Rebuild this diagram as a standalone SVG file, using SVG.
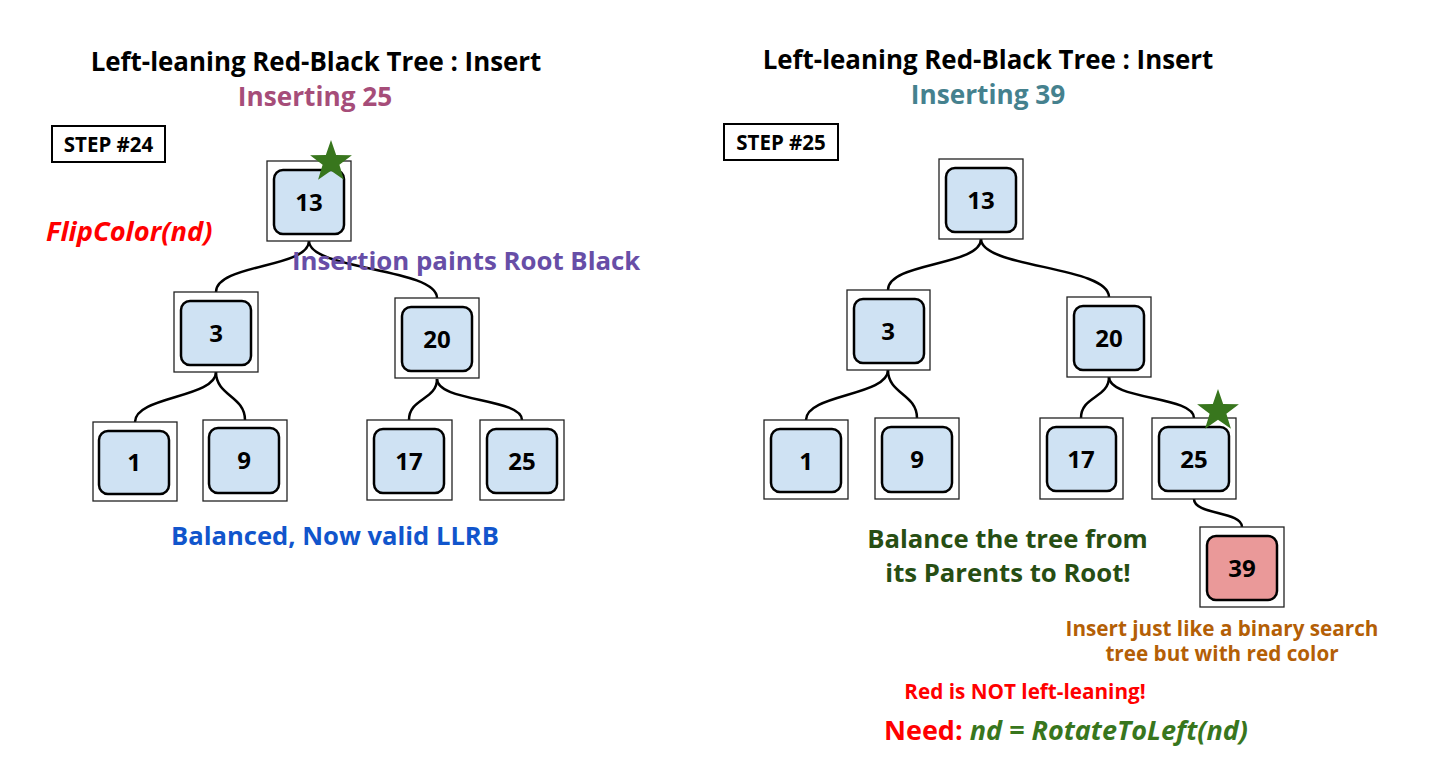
<svg xmlns="http://www.w3.org/2000/svg" width="1434" height="781" viewBox="0 0 1434 781">
<style>
text{font-family:"Open Sans","Noto Sans",sans-serif;font-weight:bold}
.outer{fill:#fff;stroke:#222;stroke-width:1.3}
.inner{fill:#cfe2f3;stroke:#000;stroke-width:2.5}
.red{fill:#ea9999}
.num{font-size:24px;text-anchor:middle;fill:#000}
.edge{fill:none;stroke:#000;stroke-width:2.5}
.title{font-size:25.9px;text-anchor:middle;fill:#000}
.sub{font-size:26.2px;text-anchor:middle}
.step{fill:#fff;stroke:#000;stroke-width:2}
.steptxt{font-size:20.5px;text-anchor:middle;fill:#000}
.star{fill:#38761d}
</style>
<defs>
<polygon id="star" points="0,-22 5.17,-7.12 20.92,-6.8 8.37,2.72 12.93,17.8 0,8.8 -12.93,17.8 -8.37,2.72 -20.92,-6.8 -5.17,-7.12"/>
</defs>
<rect width="1434" height="781" fill="#fff"/>

<g id="connectors">
<path class="edge" d="M309,241 C309,268 216,264 216,292"/>
<path class="edge" d="M309,241 C309,270 437,268 437,298"/>
<path class="edge" d="M216,372 C216,398 135,396 135,422"/>
<path class="edge" d="M216,372 C216,396 245,396 245,420"/>
<path class="edge" d="M437,379 C437,400 409,398 409,420"/>
<path class="edge" d="M437,379 C437,402 522,398 522,420"/>
<path class="edge" d="M981,239 C981,266 888,262 888,290"/>
<path class="edge" d="M981,239 C981,268 1109,266 1109,297"/>
<path class="edge" d="M888,370 C888,396 806,394 806,420"/>
<path class="edge" d="M888,370 C888,394 917,394 917,418"/>
<path class="edge" d="M1109,377 C1109,398 1081,396 1081,418"/>
<path class="edge" d="M1109,377 C1109,400 1194,396 1194,418"/>
<path class="edge" d="M1194,499 C1194,515 1242,511 1242,527"/>
</g>

<g id="left-title">
<text class="title" x="316" y="71">Left-leaning Red-Black Tree : Insert</text>
<text class="sub" x="315" y="106" fill="#a64d79">Inserting 25</text>
</g>
<g id="step24">
<rect class="step" x="52" y="126" width="113" height="36"/>
<text class="steptxt" x="108.5" y="151.5">STEP #24</text>
</g>

<g id="L13"><rect class="outer" x="267" y="161" width="84" height="80"/><rect class="inner" x="274" y="170" width="70" height="64" rx="9"/><text class="num" x="309" y="211">13</text></g>
<g id="L3"><rect class="outer" x="174" y="292" width="84" height="80"/><rect class="inner" x="181" y="301" width="70" height="64" rx="9"/><text class="num" x="216" y="342">3</text></g>
<g id="L20"><rect class="outer" x="395" y="298" width="84" height="80"/><rect class="inner" x="402" y="307" width="70" height="64" rx="9"/><text class="num" x="437" y="348">20</text></g>
<g id="L1"><rect class="outer" x="93" y="422" width="84" height="79"/><rect class="inner" x="99" y="431" width="70" height="63" rx="9"/><text class="num" x="134" y="471">1</text></g>
<g id="L9"><rect class="outer" x="203" y="420" width="84" height="81"/><rect class="inner" x="209" y="428" width="70" height="65" rx="9"/><text class="num" x="244" y="469">9</text></g>
<g id="L17"><rect class="outer" x="367" y="420" width="85" height="80"/><rect class="inner" x="374" y="429" width="70" height="64" rx="9"/><text class="num" x="409" y="470">17</text></g>
<g id="L25"><rect class="outer" x="480" y="420" width="84" height="80"/><rect class="inner" x="487" y="429" width="70" height="64" rx="9"/><text class="num" x="522" y="470">25</text></g>
<use id="star-left" href="#star" class="star" x="331" y="162"/>

<g id="left-notes">
<text x="46" y="241" font-size="27.3" font-style="italic" fill="#ff0000">FlipColor(nd)</text>
<text x="292" y="270" font-size="25.8" fill="#674ea7">Insertion paints Root Black</text>
<text x="335" y="545" font-size="25.6" fill="#1155cc" text-anchor="middle">Balanced, Now valid LLRB</text>
</g>

<g id="right-title">
<text class="title" x="988" y="69">Left-leaning Red-Black Tree : Insert</text>
<text class="sub" x="988" y="104" fill="#45818e">Inserting 39</text>
</g>
<g id="step25">
<rect class="step" x="724" y="124" width="114" height="36"/>
<text class="steptxt" x="781" y="149.5">STEP #25</text>
</g>

<g id="R13"><rect class="outer" x="939" y="159" width="84" height="80"/><rect class="inner" x="946" y="168" width="70" height="64" rx="9"/><text class="num" x="981" y="209">13</text></g>
<g id="R3"><rect class="outer" x="847" y="290" width="83" height="80"/><rect class="inner" x="854" y="299" width="70" height="64" rx="9"/><text class="num" x="888" y="340">3</text></g>
<g id="R20"><rect class="outer" x="1067" y="297" width="84" height="80"/><rect class="inner" x="1074" y="306" width="70" height="64" rx="9"/><text class="num" x="1109" y="347">20</text></g>
<g id="R1"><rect class="outer" x="764" y="420" width="84" height="79"/><rect class="inner" x="771" y="429" width="70" height="63" rx="9"/><text class="num" x="806" y="470">1</text></g>
<g id="R9"><rect class="outer" x="875" y="418" width="84" height="81"/><rect class="inner" x="882" y="427" width="70" height="65" rx="9"/><text class="num" x="917" y="468">9</text></g>
<g id="R17"><rect class="outer" x="1040" y="418" width="83" height="81"/><rect class="inner" x="1047" y="427" width="69" height="64" rx="9"/><text class="num" x="1081" y="468">17</text></g>
<g id="R25"><rect class="outer" x="1152" y="418" width="84" height="81"/><rect class="inner" x="1159" y="427" width="70" height="64" rx="9"/><text class="num" x="1194" y="468">25</text></g>
<g id="R39"><rect class="outer" x="1200" y="527" width="84" height="80"/><rect class="inner red" x="1207" y="536" width="70" height="64" rx="9"/><text class="num" x="1242" y="577">39</text></g>
<use id="star-right" href="#star" class="star" x="1218" y="411"/>

<g id="right-notes">
<text x="1007.5" y="548" font-size="25.7" fill="#274e13" text-anchor="middle">Balance the tree from</text>
<text x="1008" y="582" font-size="25.7" fill="#274e13" text-anchor="middle">its Parents to Root!</text>
<text x="1222" y="636" font-size="20.7" fill="#b45f06" text-anchor="middle">Insert just like a binary search</text>
<text x="1222" y="661" font-size="20.7" fill="#b45f06" text-anchor="middle">tree but with red color</text>
<text x="1025" y="699" font-size="20.7" fill="#ff0000" text-anchor="middle">Red is NOT left-leaning!</text>
<text x="884" y="740" font-size="27"><tspan fill="#ff0000">Need: </tspan><tspan fill="#38761d" font-style="italic">nd = RotateToLeft(nd)</tspan></text>
</g>
</svg>
